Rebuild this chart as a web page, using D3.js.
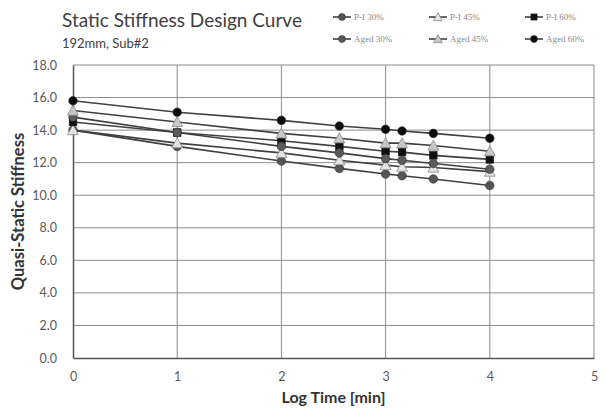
<!DOCTYPE html>
<html>
<head>
<meta charset="utf-8">
<script src="https://cdn.jsdelivr.net/npm/d3@7"></script>
<style>
  html, body { margin: 0; padding: 0; background: #fff; }
  svg { display: block; }
</style>
</head>
<body>
<svg id="chart" width="606" height="412"></svg>
<script>
// Log time positions of the measurements
const logTimes = [0, 1, 2, 2.556, 3, 3.158, 3.458, 4];

// Quasi-static stiffness per series
const piThirty   = [14.0, 13.0, 12.1, 11.65, 11.3, 11.2, 11.0, 10.6];
const piFortyFive = [14.0, 13.2, 12.6, 12.15, 11.85, 11.75, 11.7, 11.45];
const piSixty    = [14.5, 13.85, 13.35, 13.0, 12.7, 12.65, 12.45, 12.2];
const agedThirty = [14.8, 13.85, 13.0, 12.6, 12.25, 12.15, 11.95, 11.6];
const agedFortyFive = [15.2, 14.5, 13.8, 13.5, 13.2, 13.2, 13.05, 12.7];
const agedSixty  = [15.8, 15.1, 14.6, 14.25, 14.05, 13.95, 13.8, 13.5];

const seriesNames = ["P-I 30%", "P-I 45%", "P-I 60%", "Aged 30%", "Aged 45%", "Aged 60%"];
const seriesValues = [piThirty, piFortyFive, piSixty, agedThirty, agedFortyFive, agedSixty];

const xTicks = [0, 1, 2, 3, 4, 5];
const yTicks = [0, 2, 4, 6, 8, 10, 12, 14, 16, 18];

const styles = [
  { shape: "circle",   fill: "#555555" },
  { shape: "triangle", fill: "#e4e4e4" },
  { shape: "square",   fill: "#111111" },
  { shape: "circle",   fill: "#5a5a5a" },
  { shape: "triangle", fill: "#c8c8c8" },
  { shape: "circle",   fill: "#0a0a0a" }
];

const svg = d3.select("#chart");
const margin = { left: 73, right: 12, top: 65, bottom: 54 };
const W = 606, H = 412;

const x = d3.scaleLinear().domain([0, 5]).range([margin.left, W - margin.right]);
const y = d3.scaleLinear().domain([0, 18]).range([H - margin.bottom, margin.top]);

const font = "Lato, 'Open Sans', Arial, sans-serif";

// Gridlines
svg.append("g")
  .selectAll("line.h")
  .data(yTicks.slice(1))
  .join("line")
  .attr("x1", x(0)).attr("x2", x(5))
  .attr("y1", d => y(d)).attr("y2", d => y(d))
  .attr("stroke", "#8c8c8c").attr("stroke-width", 1);

svg.append("g")
  .selectAll("line.v")
  .data(xTicks.slice(1))
  .join("line")
  .attr("x1", d => x(d)).attr("x2", d => x(d))
  .attr("y1", y(0)).attr("y2", y(18))
  .attr("stroke", "#8c8c8c").attr("stroke-width", 1);

// Axes
const xAxis = svg.append("g")
  .attr("transform", `translate(0,${y(0)})`)
  .call(d3.axisBottom(x).tickValues(xTicks).tickFormat(d3.format("d")).tickSize(0).tickPadding(14));
const yAxis = svg.append("g")
  .attr("transform", `translate(${x(0)},0)`)
  .call(d3.axisLeft(y).tickValues(yTicks).tickFormat(d3.format(".1f")).tickSize(0).tickPadding(16));

[xAxis, yAxis].forEach(a => {
  a.select(".domain").attr("stroke", "#555").attr("stroke-width", 1.5);
  a.selectAll("text").attr("font-family", font).attr("font-size", 12.5).attr("fill", "#595959");
});

// Series lines
const line = d3.line().x((d, i) => x(logTimes[i])).y(d => y(d));

svg.append("g")
  .selectAll("path")
  .data(seriesValues)
  .join("path")
  .attr("d", d => line(d))
  .attr("fill", "none")
  .attr("stroke", "#404040")
  .attr("stroke-width", 1.6);

// Markers
function drawMarker(g, shape, fill, cx, cy, scale) {
  const s = scale || 1;
  if (shape === "circle") {
    g.append("circle").attr("cx", cx).attr("cy", cy).attr("r", 4.3 * s)
      .attr("fill", fill).attr("stroke", "#333").attr("stroke-width", 0.6);
  } else if (shape === "square") {
    g.append("rect").attr("x", cx - 3.8 * s).attr("y", cy - 3.8 * s)
      .attr("width", 7.6 * s).attr("height", 7.6 * s)
      .attr("fill", fill).attr("stroke", "#111").attr("stroke-width", 0.6);
  } else {
    const h = 5.4 * s;
    g.append("path")
      .attr("d", `M${cx},${cy - h} L${cx + h},${cy + h * 0.85} L${cx - h},${cy + h * 0.85} Z`)
      .attr("fill", fill).attr("stroke", "#888").attr("stroke-width", 0.8);
  }
}

const markers = svg.append("g");
seriesValues.forEach((vals, si) => {
  const st = styles[si];
  vals.forEach((v, i) => drawMarker(markers, st.shape, st.fill, x(logTimes[i]), y(v)));
});

// Titles
svg.append("text").attr("x", 62).attr("y", 27)
  .attr("font-family", font).attr("font-size", 19).attr("fill", "#404040")
  .text("Static Stiffness Design Curve");
svg.append("text").attr("x", 62).attr("y", 48)
  .attr("font-family", font).attr("font-size", 13).attr("fill", "#404040")
  .text("192mm, Sub#2");

// Axis titles
svg.append("text")
  .attr("x", x(2.5)).attr("y", 403)
  .attr("text-anchor", "middle")
  .attr("font-family", font).attr("font-size", 16).attr("font-weight", "bold").attr("fill", "#333")
  .text("Log Time [min]");
svg.append("text")
  .attr("transform", `translate(24,${y(9)}) rotate(-90)`)
  .attr("text-anchor", "middle")
  .attr("font-family", font).attr("font-size", 16.5).attr("font-weight", "bold").attr("fill", "#333")
  .text("Quasi-Static Stiffness");

// Legend
const legend = svg.append("g");
seriesNames.forEach((name, i) => {
  const col = i % 3, row = Math.floor(i / 3);
  const lx = 333 + col * 96, ly = 17 + row * 22;
  legend.append("line").attr("x1", lx).attr("x2", lx + 18).attr("y1", ly).attr("y2", ly)
    .attr("stroke", "#404040").attr("stroke-width", 1.6);
  drawMarker(legend, styles[i].shape, styles[i].fill, lx + 9, ly, 0.8);
  legend.append("text").attr("x", lx + 21).attr("y", ly + 3)
    .attr("font-family", "'Liberation Serif', serif").attr("font-size", 9).attr("fill", "#8a8a8a")
    .text(name);
});
</script>
</body>
</html>
